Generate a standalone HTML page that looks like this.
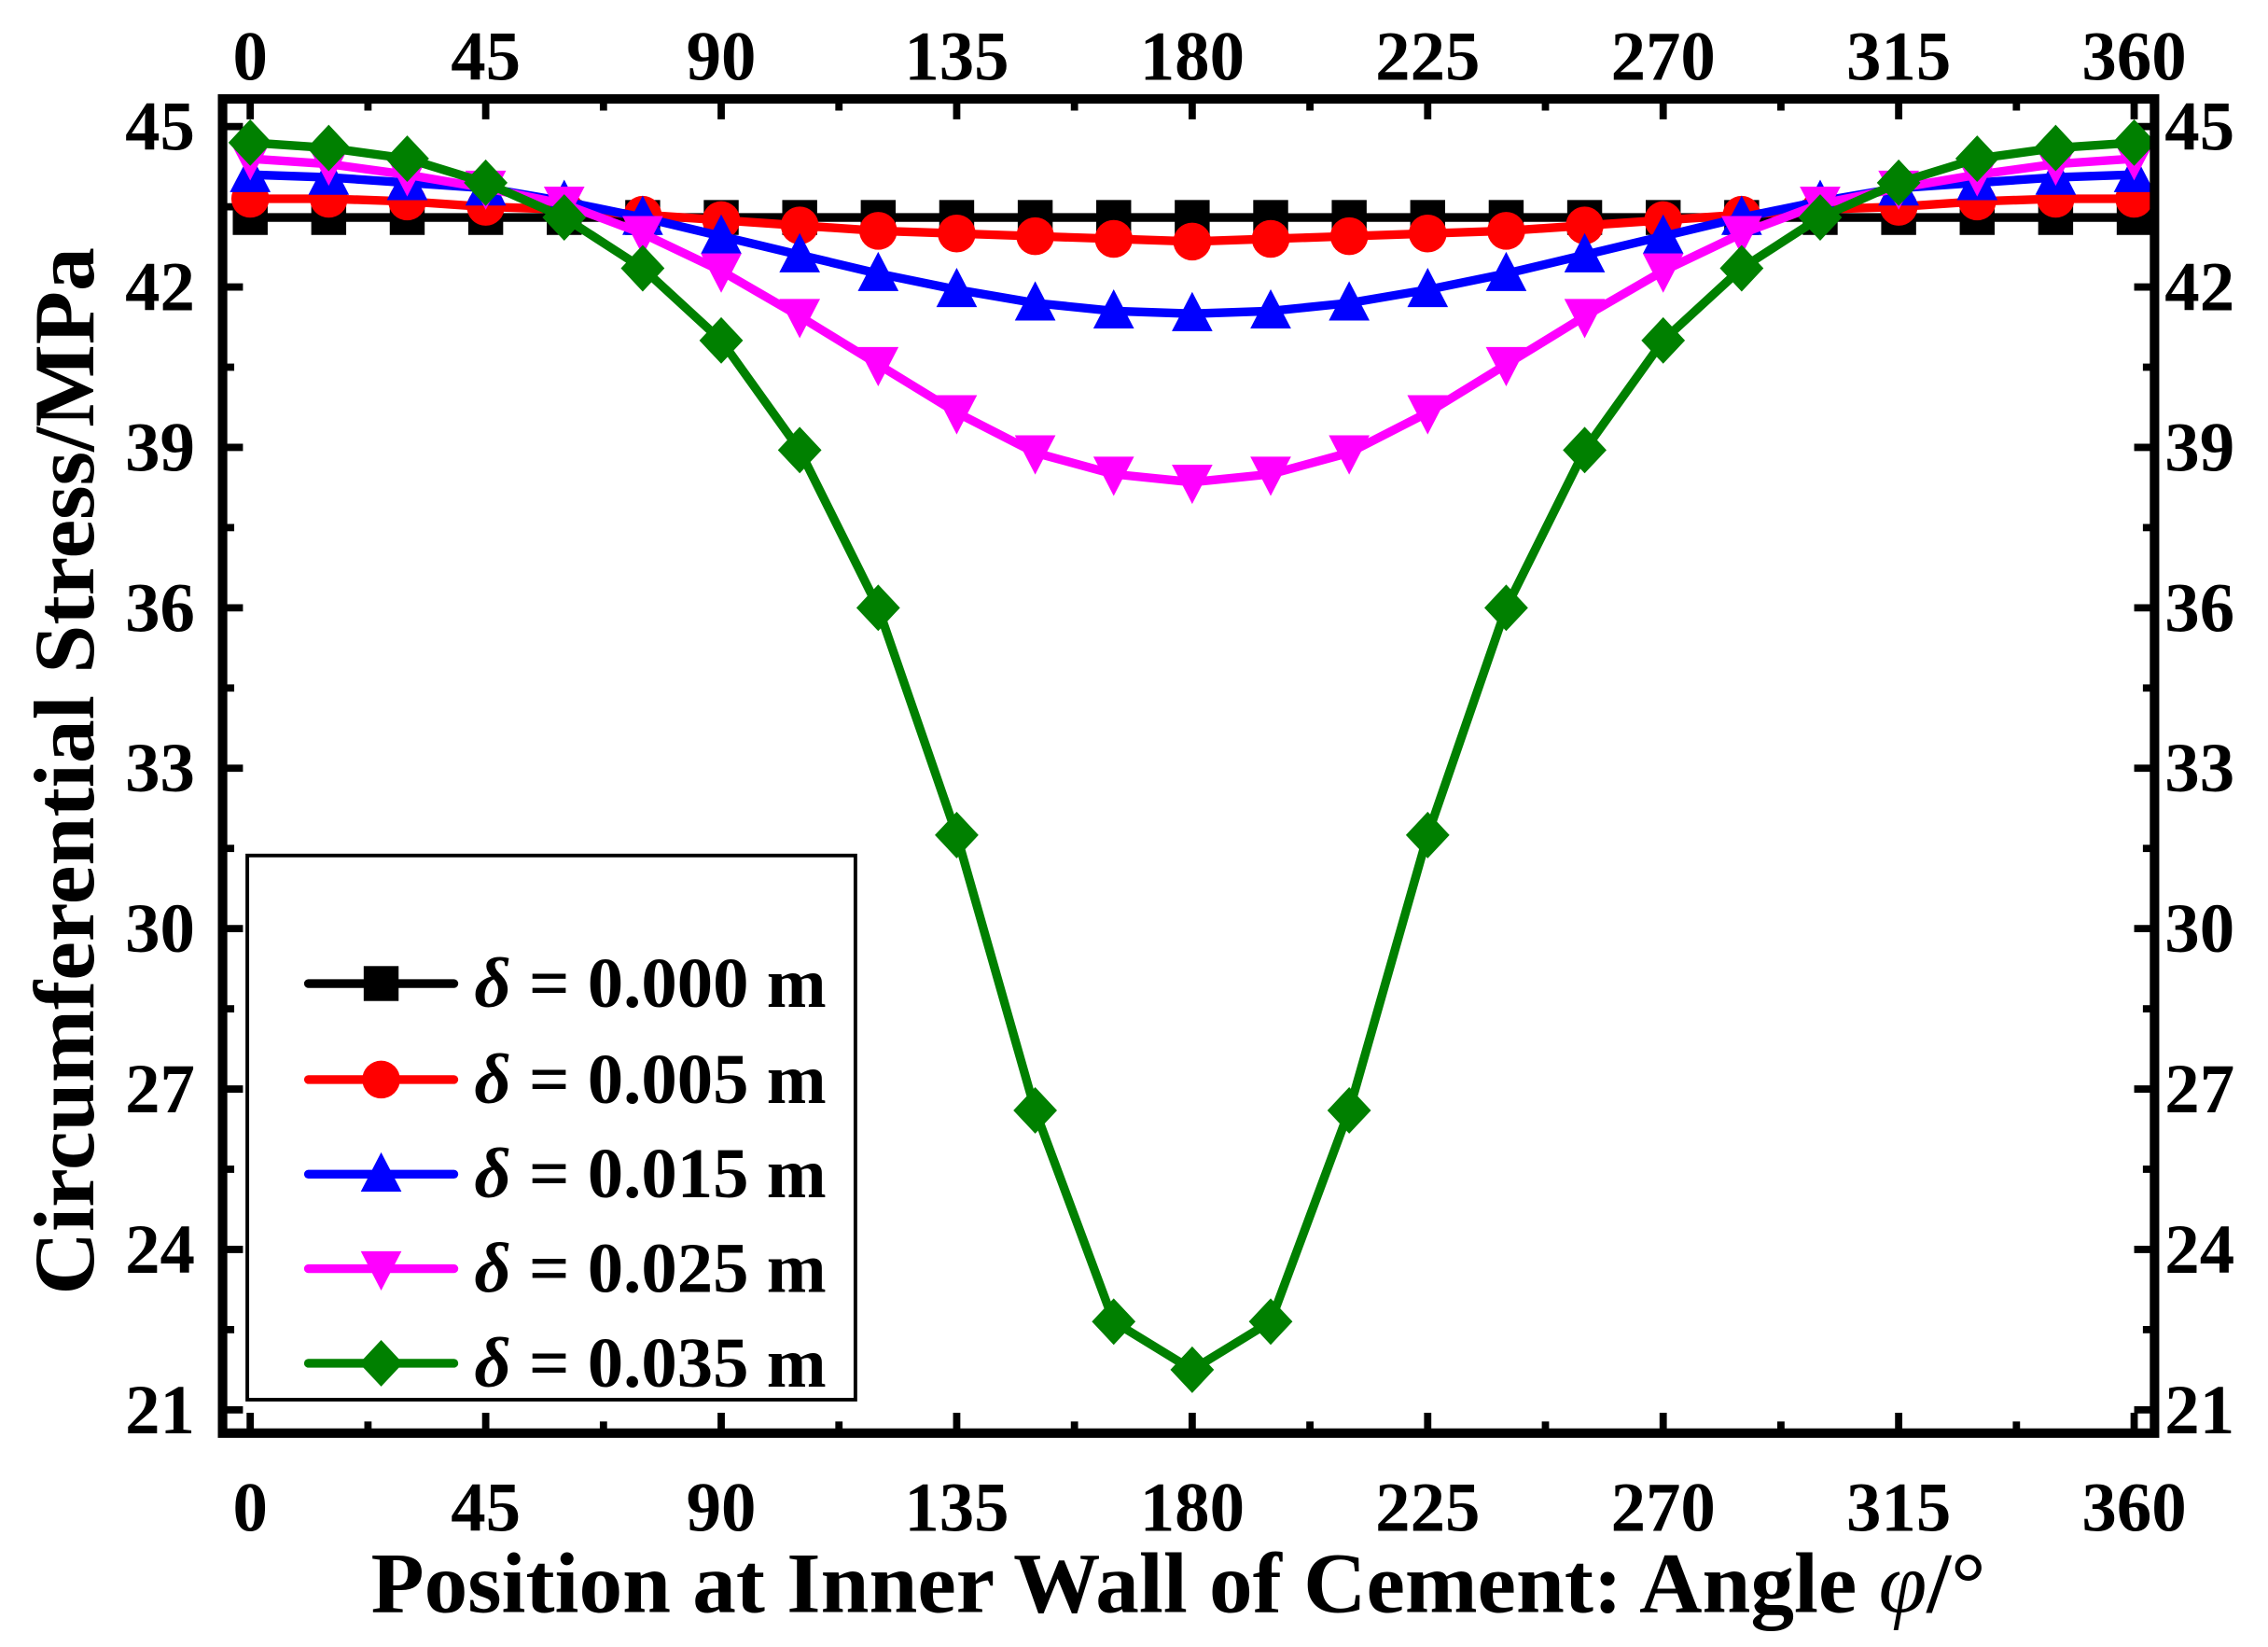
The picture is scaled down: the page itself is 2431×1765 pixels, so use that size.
<!DOCTYPE html>
<html><head><meta charset="utf-8"><style>
html,body{margin:0;padding:0;background:#fff;}
svg{display:block;}
text{font-family:"Liberation Serif","DejaVu Serif",serif;font-weight:bold;}
</style></head><body>
<svg id="c" width="2431" height="1765" viewBox="0 0 1559 1132" preserveAspectRatio="none" xmlns="http://www.w3.org/2000/svg"></svg>
<script>
const S=document.getElementById('c');
const X=a=>172+a*1295/360, Y=v=>87+(45-v)*36.75;
let h='';
const L=153,R=1481,T=68,B=985;
for(let a=0;a<=360;a+=22.5){const mj=(a%45===0);const x=X(a);const len=mj?14:8;
 h+=`<line x1="${x}" y1="${B}" x2="${x}" y2="${B-len}" stroke="#000" stroke-width="5"/>`;
 h+=`<line x1="${x}" y1="${T}" x2="${x}" y2="${T+len}" stroke="#000" stroke-width="5"/>`;
 if(mj){h+=`<text x="${x}" y="1052" font-size="48" text-anchor="middle">${a}</text>`;
 h+=`<text x="${x}" y="55" font-size="48" text-anchor="middle">${a}</text>`;}}
for(let v=21;v<=45;v+=1.5){const mj=(v%3===0);const y=Y(v);const len=mj?14:8;
 h+=`<line x1="${L}" y1="${y}" x2="${L+len}" y2="${y}" stroke="#000" stroke-width="5"/>`;
 h+=`<line x1="${R}" y1="${y}" x2="${R-len}" y2="${y}" stroke="#000" stroke-width="5"/>`;
 if(mj){h+=`<text x="134" y="${y+16}" font-size="48" text-anchor="end">${v}</text>`;
 h+=`<text x="1488" y="${y+16}" font-size="48">${v}</text>`;}}
const half={
k:[43.3,43.3,43.3,43.3,43.3,43.3,43.3,43.3,43.3,43.3,43.3,43.3,43.3],
r:[43.65,43.65,43.6,43.5,43.45,43.35,43.25,43.15,43.05,43.0,42.95,42.9,42.85],
b:[44.1,44.05,43.95,43.85,43.6,43.3,42.95,42.6,42.25,41.95,41.7,41.55,41.5],
m:[44.4,44.3,44.1,43.85,43.55,43.0,42.3,41.45,40.55,39.65,38.9,38.5,38.35],
g:[44.7,44.6,44.4,43.95,43.3,42.35,41.0,38.95,36.0,31.75,26.6,22.65,21.75]};
const full=k=>{const a=half[k];return a.concat(a.slice(0,12).reverse());};
function mk(t,x,y,c){const s=12;
 if(t==='k')return `<rect x="${x-s}" y="${y-s}" width="${2*s}" height="${2*s}" fill="${c}"/>`;
 if(t==='r')return `<circle cx="${x}" cy="${y}" r="${s+1}" fill="${c}"/>`;
 if(t==='b')return `<polygon points="${x},${y-s-3} ${x+s+2},${y+s} ${x-s-2},${y+s}" fill="${c}"/>`;
 if(t==='m')return `<polygon points="${x},${y+s+3} ${x+s+2},${y-s} ${x-s-2},${y-s}" fill="${c}"/>`;
 return `<polygon points="${x},${y-s-4} ${x+s+3},${y} ${x},${y+s+4} ${x-s-3},${y}" fill="${c}"/>`;}
const cols={k:'#000',r:'#ff0000',b:'#0000ff',m:'#ff00ff',g:'#008000'};
for(const k of ['k','r','b','m','g']){const d=full(k);let p='';
 d.forEach((v,i)=>{p+=`${X(i*15)},${Y(v)} `;});
 h+=`<polyline points="${p}" fill="none" stroke="${cols[k]}" stroke-width="6" stroke-linejoin="round"/>`;
 d.forEach((v,i)=>{h+=mk(k,X(i*15),Y(v),cols[k]);});}
h+=`<rect x="${L}" y="${T}" width="${R-L}" height="${B-T}" fill="none" stroke="#000" stroke-width="6.5"/>`;
h+=`<rect x="170" y="588" width="418" height="374" fill="#fff" stroke="#000" stroke-width="2.5"/>`;
const labs=['0.000','0.005','0.015','0.025','0.035'],ly=[676,742,807,872,937];
['k','r','b','m','g'].forEach((k,i)=>{const y=ly[i];
 h+=`<line x1="212" y1="${y}" x2="312" y2="${y}" stroke="${cols[k]}" stroke-width="6" stroke-linecap="round"/>`;
 h+=mk(k,262,y,cols[k]);
 h+=`<text x="326" y="${y+16}" font-size="49" textLength="242" lengthAdjust="spacingAndGlyphs"><tspan font-style="italic">δ</tspan> = ${labs[i]} m</text>`;});
h+=`<text x="810" y="1108" font-size="59" text-anchor="middle" textLength="1110" lengthAdjust="spacingAndGlyphs">Position at Inner Wall of Cement: Angle <tspan font-style="italic" font-weight="normal">φ</tspan>/°</text>`;
h+=`<text transform="translate(64,530) rotate(-90)" font-size="59" text-anchor="middle" textLength="720" lengthAdjust="spacingAndGlyphs">Circumferential Stress/MPa</text>`;
S.innerHTML=h;
</script>
</body></html>
